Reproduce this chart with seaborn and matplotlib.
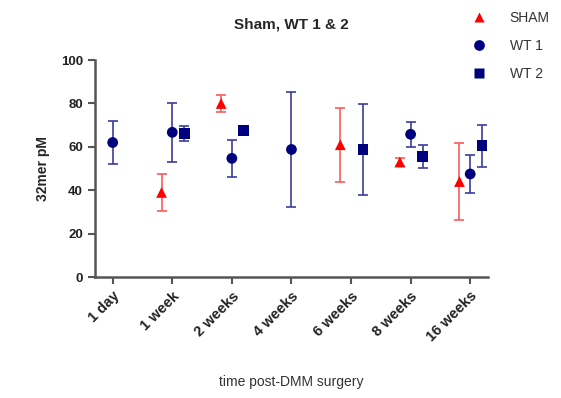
import numpy as np
import pandas as pd
import matplotlib
matplotlib.use("Agg")
import matplotlib.pyplot as plt
import seaborn as sns

timepoints = ["1 day", "1 week", "2 weeks", "4 weeks", "6 weeks", "8 weeks", "16 weeks"]
groups = ["SHAM", "WT 1", "WT 2"]

sham_mean = [np.nan, 39, 80, np.nan, 61, 53, 44]
sham_err = [np.nan, 8.4, 3.8, np.nan, 17, 2, 17.6]
wt1_mean = [62, 66.7, 54.7, 58.8, np.nan, 65.8, 47.5]
wt1_err = [9.7, 13.5, 8.4, 26.4, np.nan, 5.8, 8.7]
wt2_mean = [np.nan, 66.2, 67.7, np.nan, 58.8, 55.5, 60.5]
wt2_err = [np.nan, 3.5, 1.5, np.nan, 21, 5.3, 9.6]

colors = {"SHAM": "#FF0000", "WT 1": "#00007F", "WT 2": "#00007F"}
err_colors = {"SHAM": "#FF5A5A", "WT 1": "#3C3C9C", "WT 2": "#3C3C9C"}
markers = {"SHAM": "^", "WT 1": "o", "WT 2": "s"}
offsets = {"SHAM": -0.18, "WT 1": 0.0, "WT 2": 0.2}

rows = []
for g, m, e in zip(groups, [sham_mean, wt1_mean, wt2_mean], [sham_err, wt1_err, wt2_err]):
    for i, t in enumerate(timepoints):
        rows.append({"group": g, "time": t, "pos": i + offsets[g], "mean": m[i], "err": e[i]})
df = pd.DataFrame(rows).dropna()

sns.set_style("ticks")
plt.rcParams["font.family"] = ["Liberation Sans", "DejaVu Sans"]

fig = plt.figure(figsize=(5.61, 3.98), dpi=100)
ax = fig.add_axes([0.169, 0.304, 0.701, 0.545])

for g in groups:
    sub = df[df["group"] == g]
    ax.errorbar(sub["pos"], sub["mean"], yerr=sub["err"], fmt="none",
                ecolor=err_colors[g], elinewidth=1.2, capsize=3.5, capthick=1.2, zorder=2)

sns.scatterplot(data=df, x="pos", y="mean", hue="group", style="group",
                palette=colors, markers=markers, s=60, edgecolor="none",
                ax=ax, zorder=3)

ax.set_xlim(-0.3, 6.3)
ax.set_ylim(0, 100)
ax.set_yticks([0, 20, 40, 60, 80, 100])
ax.set_xticks(range(len(timepoints)))
ax.set_xticklabels(timepoints, rotation=45, ha="right", rotation_mode="anchor",
                   fontweight="bold", fontsize=10.5)
for lab in ax.get_yticklabels():
    lab.set_fontweight("bold")
    lab.set_fontsize(9.5)

for s in ["top", "right"]:
    ax.spines[s].set_visible(False)
for s in ["left", "bottom"]:
    ax.spines[s].set_color("#555555")
    ax.spines[s].set_linewidth(1.8)
ax.tick_params(axis="both", colors="#555555", width=1.5, length=5, labelcolor="#222222")

ax.set_title("Sham, WT 1 & 2", fontweight="bold", fontsize=11, pad=23)
ax.set_ylabel("32mer pM", fontweight="bold", fontsize=10, labelpad=8)
ax.set_xlabel("time post-DMM surgery", fontsize=10, labelpad=22, color="#333333")

leg = ax.legend(loc="upper left", bbox_to_anchor=(0.91, 1.285), frameon=False,
                fontsize=10, handletextpad=1.2, labelspacing=1.0, markerscale=1.0)
for t in leg.get_texts():
    t.set_color("#333333")

fig.savefig("out.png", dpi=100)
